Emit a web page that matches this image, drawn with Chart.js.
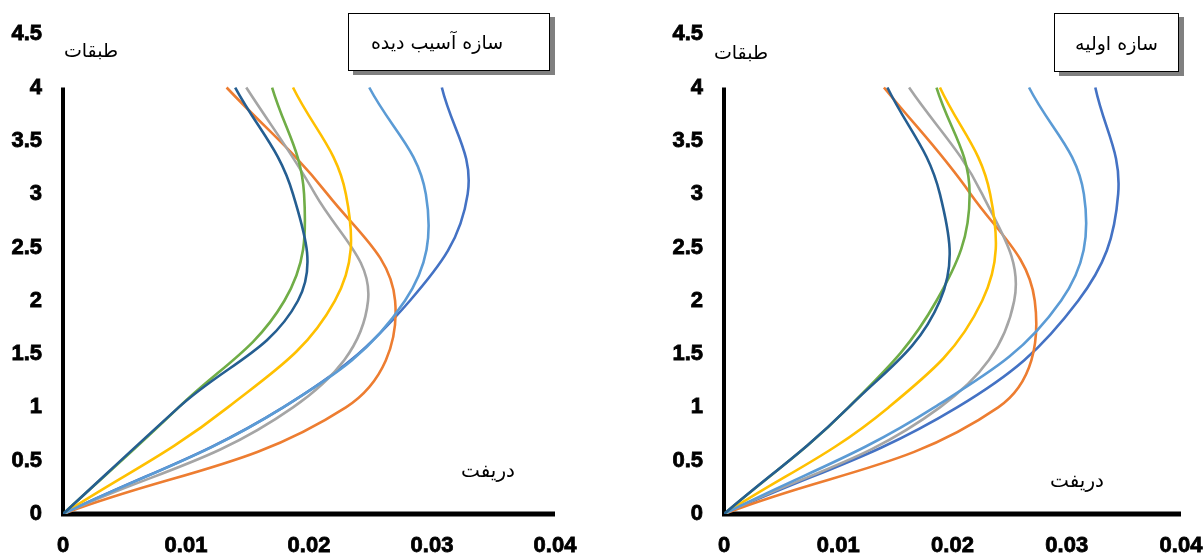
<!DOCTYPE html>
<html>
<head>
<meta charset="utf-8">
<script src="https://cdn.jsdelivr.net/npm/chart.js@4.4.1/dist/chart.umd.min.js"></script>
<style>
    body { margin: 0; background: #fff; width: 1204px; height: 556px; overflow: hidden; position: relative; font-family: "DejaVu Sans", sans-serif; }
    .panel { position: absolute; top: 0; height: 556px; }
    #left-panel { left: 0; width: 600px; }
    #right-panel { left: 600px; width: 626px; }
    .box { position: absolute; border: 1.5px solid #000; background: #fff; box-shadow: 5px 4px 0 #808080; display: flex; align-items: center; justify-content: center; font-size: 19px; direction: rtl; box-sizing: border-box; }
    .lbl { position: absolute; font-size: 19px; direction: rtl; white-space: nowrap; transform: translate(-50%, -50%); }
</style>
</head>
<body>
<div class="panel" id="left-panel"><canvas id="left-chart"></canvas></div>
<div class="panel" id="right-panel"><canvas id="right-chart"></canvas></div>

<div class="box" style="left:348px; top:13px; width:202px; height:58px; padding-right:24px;">سازه آسیب دیده</div>
<div class="box" style="left:1054px; top:13px; width:125px; height:59px;">سازه اولیه</div>

<div class="lbl" style="left:91px; top:50px;">طبقات</div>
<div class="lbl" style="left:741px; top:52px;">طبقات</div>
<div class="lbl" style="left:488px; top:470px; font-size:20px;">دریفت</div>
<div class="lbl" style="left:1077px; top:480px; font-size:20px;">دریفت</div>

<script>
// floors (y) and drift values (x) for each series
var floors = [0, 1, 2, 3, 4];

var xTickLabels = ['0', '0.01', '0.02', '0.03', '0.04'];
var yTickLabels = ['0', '0.5', '1', '1.5', '2', '2.5', '3', '3.5', '4', '4.5'];

var seriesColors = ['#4472C4', '#ED7D31', '#A5A5A5', '#FFC000', '#5B9BD5', '#70AD47', '#255E91'];

// damaged structure (left)
var damagedBlue      = [0, 0.0179, 0.0282, 0.0329, 0.0308];
var damagedOrange    = [0, 0.0230, 0.0270, 0.0215, 0.0133];
var damagedGray      = [0, 0.0187, 0.0248, 0.0205, 0.0149];
var damagedYellow    = [0, 0.0134, 0.0221, 0.0230, 0.0187];
var damagedLightBlue = [0, 0.0179, 0.0278, 0.0295, 0.0249];
var damagedGreen     = [0, 0.0094, 0.0180, 0.0196, 0.0170];
var damagedDarkBlue  = [0, 0.0094, 0.0191, 0.0187, 0.0140];

// initial structure (right)
var initialBlue      = [0, 0.0204, 0.0310, 0.0345, 0.0325];
var initialOrange    = [0, 0.0240, 0.0272, 0.0216, 0.0140];
var initialGray      = [0, 0.0189, 0.0254, 0.0226, 0.0162];
var initialYellow    = [0, 0.0144, 0.0226, 0.0233, 0.0189];
var initialLightBlue = [0, 0.0184, 0.0295, 0.0315, 0.0267];
var initialGreen     = [0, 0.0109, 0.0186, 0.0215, 0.0186];
var initialDarkBlue  = [0, 0.0109, 0.0189, 0.0189, 0.0143];

var tickFont = { family: 'Liberation Sans', size: 22, weight: 'bold' };

var axisLines = {
    id: 'axisLines',
    beforeDatasetsDraw: function (chart) {
        var ctx = chart.ctx;
        var x = chart.scales.x;
        var y = chart.scales.y;
        ctx.save();
        ctx.strokeStyle = '#000';
        ctx.lineWidth = 5;
        ctx.beginPath();
        ctx.moveTo(x.getPixelForValue(0) - 2, y.getPixelForValue(0));
        ctx.lineTo(x.getPixelForValue(0.04), y.getPixelForValue(0));
        ctx.stroke();
        ctx.lineWidth = 4;
        ctx.beginPath();
        ctx.moveTo(x.getPixelForValue(0), y.getPixelForValue(0));
        ctx.lineTo(x.getPixelForValue(0), y.getPixelForValue(4));
        ctx.stroke();
        ctx.restore();
    }
};

function BuildDatasets(list) {
    var datasets = [];
    list.forEach(function (values, i) {
        datasets.push({
            data: values.map(function (v, k) { return { x: v, y: floors[k] }; }),
            borderColor: seriesColors[i],
            borderWidth: 2.6,
            showLine: true,
            pointRadius: 0,
            tension: 0.4,
            order: list.length - i
        });
    });
    return datasets;
}

function LoadChart(id, list, padLeft, padRight) {
    var ctx = document.getElementById(id);
    return new Chart(ctx, {
        type: 'scatter',
        data: { datasets: BuildDatasets(list) },
        plugins: [axisLines],
        options: {
            responsive: true,
            maintainAspectRatio: false,
            animation: false,
            layout: { padding: { top: 31, right: padRight, bottom: 0, left: padLeft } },
            plugins: { legend: false, tooltip: { enabled: false } },
            scales: {
                x: {
                    type: 'linear',
                    min: 0,
                    max: 0.04,
                    grid: { display: false, drawTicks: false },
                    border: { display: false },
                    afterFit: function (scale) { scale.height = 42; },
                    ticks: {
                        stepSize: 0.01,
                        padding: 19,
                        color: '#000',
                        textStrokeColor: '#000',
                        textStrokeWidth: 0.8,
                        font: tickFont,
                        maxRotation: 0,
                        callback: function (v, i) { return xTickLabels[i]; }
                    }
                },
                y: {
                    type: 'linear',
                    min: 0,
                    max: 4.5,
                    grid: { display: false, drawTicks: false },
                    border: { display: false },
                    afterFit: function (scale) { scale.width = 63; },
                    ticks: {
                        stepSize: 0.5,
                        padding: 21,
                        color: '#000',
                        textStrokeColor: '#000',
                        textStrokeWidth: 0.8,
                        font: tickFont,
                        callback: function (v, i) { return yTickLabels[i]; }
                    }
                }
            }
        }
    });
}

LoadChart('left-chart', [damagedBlue, damagedOrange, damagedGray, damagedYellow, damagedLightBlue, damagedGreen, damagedDarkBlue], 0, 45);
LoadChart('right-chart', [initialBlue, initialOrange, initialGray, initialYellow, initialLightBlue, initialGreen, initialDarkBlue], 61, 45);
</script>
</body>
</html>
